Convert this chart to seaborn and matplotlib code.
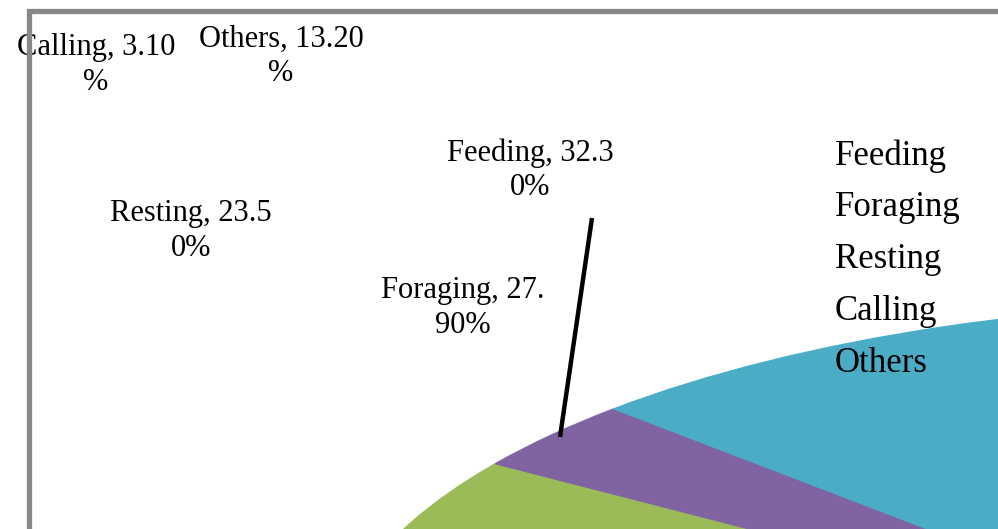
import matplotlib
matplotlib.use("Agg")
import matplotlib.pyplot as plt
from matplotlib.lines import Line2D
import seaborn as sns

# Time budget of the observed behaviours (percent)
activities = ["Feeding", "Foraging", "Resting", "Calling", "Others"]
shares = [32.30, 27.90, 23.50, 3.10, 13.20]
slice_colors = ["#4F81BD", "#C0504D", "#9BBB59", "#8064A2", "#4BACC6"]

sns.set_theme(style="white")
plt.rcParams["font.family"] = ["Liberation Serif", "DejaVu Serif"]

W, H = 998, 529
fig = plt.figure(figsize=(W / 100, H / 100), dpi=100)
fig.patch.set_facecolor("white")


def fx(px):
    return px / W


def fy(py):
    return 1 - py / H


# The pie is stretched into a wide ellipse whose centre lies outside the frame
CX, CY = 1290.0, 668.0   # centre, pixels from top-left
RX, RY = 958.0, 366.0    # semi-axes, pixels

ax = fig.add_axes([0, 0, 1, 1])
palette = sns.color_palette(slice_colors)
wedges, _ = ax.pie(shares, colors=palette, startangle=87.4, counterclock=False,
                   radius=1.0, center=(0, 0),
                   wedgeprops=dict(linewidth=0, antialiased=True))
# outline each slice in its own colour so no seam shows between slices
for w in wedges:
    w.set_edgecolor(w.get_facecolor())
    w.set_linewidth(0.8)
ax.set_aspect("auto")
ax.set_xlim((0 - CX) / RX, (W - CX) / RX)
ax.set_ylim((CY - H) / RY, (CY - 0) / RY)
ax.axis("off")

# Data labels "Name, value%" wrapped after 13 characters
label_pos = {
    "Feeding": (530, 170),
    "Foraging": (463, 308),
    "Resting": (191, 231),
    "Calling": (96, 65),
    "Others": (281, 56),
}
for name, value in zip(activities, shares):
    s = f"{name}, {value:.2f}%"
    text = s[:13] + "\n" + s[13:]
    x, y = label_pos[name]
    fig.text(fx(x), fy(y), text, ha="center", va="center",
             multialignment="center", fontsize=22, color="black",
             linespacing=1.24, zorder=3)

# Leader line of the Feeding label
fig.add_artist(Line2D([fx(592), fx(560)], [fy(218), fy(437)],
                      color="black", linewidth=3.2, zorder=4,
                      solid_capstyle="butt"))

# Legend entries (text only)
for i, name in enumerate(activities):
    fig.text(fx(835), fy(156 + 52 * i), name, ha="left", va="center",
             fontsize=25, color="black", zorder=3)

# Chart-area border along the left and top edges
fig.add_artist(Line2D([fx(29), fx(29), fx(W + 5)], [fy(H + 5), fy(11), fy(11)],
                      color="#888888", linewidth=3.8, zorder=5,
                      solid_joinstyle="miter"))

fig.savefig("out.png", dpi=100)
